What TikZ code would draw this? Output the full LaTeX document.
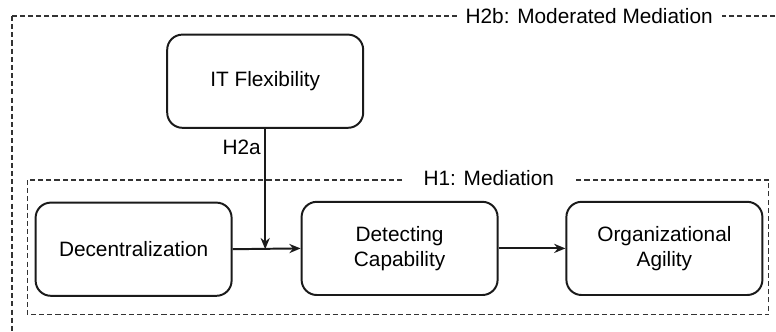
\documentclass[tikz,border=0pt]{standalone}
\usepackage{fontspec}
\setmainfont{Liberation Sans}
\usepackage{tikz}
\usetikzlibrary{positioning,arrows.meta}
\definecolor{InkBlack}{HTML}{1A1A1A}
\definecolor{DashGray}{HTML}{333333}
\tikzset{
  varnode/.style={draw=InkBlack,fill=white,rounded corners=0.38cm,line width=1.4pt,
    minimum width=4.9cm,minimum height=2.33cm,
    font=\fontsize{14.8}{17.5}\selectfont,align=center,inner sep=2pt},
  grpbox/.style={draw=DashGray,line width=0.9pt,dash pattern=on 3.6pt off 2.2pt},
  grplabel/.style={fill=white,font=\fontsize{14.8}{17.5}\selectfont,inner ysep=1pt},
  hlabel/.style={font=\fontsize{14.8}{17.5}\selectfont,inner sep=1pt},
  edgeA/.style={line width=1.4pt,draw=InkBlack,-{Stealth[length=8pt,width=6.5pt]}},
}
\begin{document}
\begin{tikzpicture}
  \clip (0,0) rectangle (19.4,-8.275);
  % outer and inner groups
  \draw[grpbox] (0.3,-0.4) rectangle (20.2,-9.2);
  \node[grplabel,inner xsep=6.4pt] (h2b) at (14.73,-0.4) {H2b: Moderated Mediation};
  \draw[grpbox] (0.68,-4.5) rectangle (19.22,-7.87);
  \node[grplabel,inner xsep=13.5pt] (h1) at (12.22,-4.45) {H1: Mediation};
  % variables
  \node[varnode] (itflex) at (6.63,-2.03) {IT Flexibility};
  \node[varnode] (decent) at (3.34,-6.23) {Decentralization};
  \node[varnode] (detect) at (9.99,-6.21) {Detecting\\Capability};
  \node[varnode] (orgag) at (16.61,-6.21) {Organizational\\Agility};
  \coordinate (mid) at (itflex.south |- decent.east);
  \node[hlabel,anchor=east] (h2a) at (6.56,-3.68) {H2a};
  \draw[edgeA] (decent.east) -- (detect.west);
  \draw[edgeA] (itflex.south) -- (mid);
  \draw[edgeA] (detect.east) -- (orgag.west);
\end{tikzpicture}
\end{document}
